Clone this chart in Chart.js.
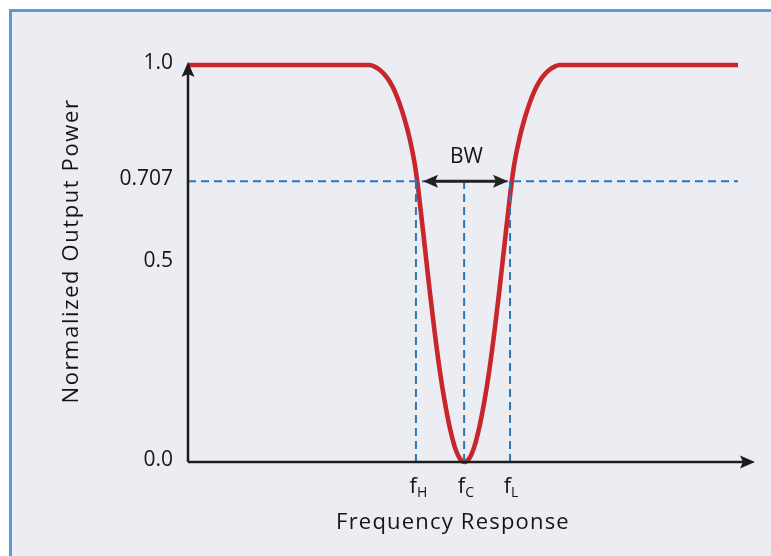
<!DOCTYPE html>
<html>
<head>
<meta charset="utf-8">
<title>Notch filter response</title>
<script src="https://cdn.jsdelivr.net/npm/chart.js@4.4.1/dist/chart.umd.min.js"></script>
<style>
  html, body { margin: 0; padding: 0; background: #ffffff; }
  #frame {
    position: absolute; left: 9px; top: 9px; width: 770px; height: 555px;
    box-sizing: border-box; border-left: 3px solid #5b9bd5; border-top: 3px solid #5b9bd5;
    background: #ecedf3;
  }
  #wrap { position: absolute; left: 0; top: 0; width: 771px; height: 556px; }
</style>
</head>
<body>
<div id="frame"></div>
<div id="wrap"><canvas id="chart"></canvas></div>
<script>
  // frequency axis is unitless (0..100), power is normalized 0..1
  const freq  = [0, 32.02, 32.90, 33.78, 34.66, 35.54, 36.42, 37.31, 38.19, 39.07, 39.95, 40.43, 40.83,
                 41.72, 42.60, 43.48, 44.36, 45.24, 46.12, 47.01, 47.89, 48.77,
                 49.65, 50.53, 51.42, 52.30, 53.18, 54.06, 54.94, 55.82, 56.71, 57.11, 57.59,
                 58.47, 59.35, 60.23, 61.12, 62.00, 62.88, 63.76, 64.64, 65.52, 97.0];
  const power = [1.0, 1.0, 0.996, 0.988, 0.976, 0.959, 0.935, 0.903, 0.864, 0.816, 0.754, 0.707, 0.660,
                 0.548, 0.435, 0.330, 0.235, 0.155, 0.090, 0.040, 0.010, 0.0,
                 0.010, 0.040, 0.090, 0.155, 0.235, 0.330, 0.435, 0.548, 0.660, 0.707, 0.754,
                 0.816, 0.864, 0.903, 0.935, 0.959, 0.976, 0.988, 0.996, 1.0, 1.0];

  const yTickValues = [0, 0.5, 0.707, 1.0];
  const yTickLabels = ["0.0", "0.5", "0.707", "1.0"];

  const markerFreqs = [40.2, 48.7, 56.8];   // fH, fC, fL
  const markerSubs  = ["H", "C", "L"];
  const halfPower = 0.707;
  const bwRange = [41.45, 56.44];
  const guideEnd = 97.0;

  const FONT = "'Open Sans', sans-serif";
  const TEXT = "#151515";
  const AXIS = "#1c1c1c";
  const RED = "#c8262d";
  const BLUE = "#2e75b6";

  function arrowHead(ctx, tipX, tipY, dirX, dirY, len, half) {
    const bx = tipX - dirX * len, by = tipY - dirY * len;
    const px = -dirY, py = dirX;
    ctx.beginPath();
    ctx.moveTo(tipX, tipY);
    ctx.lineTo(bx + px * half, by + py * half);
    ctx.lineTo(bx + dirX * 3, by + dirY * 3);
    ctx.lineTo(bx - px * half, by - py * half);
    ctx.closePath();
    ctx.fill();
  }

  const decor = {
    id: "notchDecor",
    afterDatasetsDraw(chart) {
      const { ctx, chartArea, scales } = chart;
      const xs = scales.x, ys = scales.y;
      const x0 = chartArea.left;
      const y0 = ys.getPixelForValue(0);
      const yTop = ys.getPixelForValue(1) - 3;
      ctx.save();

      // axes with arrows
      ctx.strokeStyle = AXIS;
      ctx.fillStyle = AXIS;
      ctx.lineWidth = 2.5;
      ctx.beginPath();
      ctx.moveTo(x0, y0);
      ctx.lineTo(chartArea.right - 10, y0);
      ctx.moveTo(x0, y0);
      ctx.lineTo(x0, yTop + 10);
      ctx.stroke();
      arrowHead(ctx, chartArea.right, y0, 1, 0, 15, 6.5);
      arrowHead(ctx, x0, yTop, 0, -1, 15, 6.5);

      // bandwidth double arrow
      const yb = ys.getPixelForValue(halfPower);
      const bl = xs.getPixelForValue(bwRange[0]);
      const br = xs.getPixelForValue(bwRange[1]);
      ctx.strokeStyle = "#222";
      ctx.fillStyle = "#222";
      ctx.lineWidth = 3;
      ctx.beginPath();
      ctx.moveTo(bl + 10, yb);
      ctx.lineTo(br - 10, yb);
      ctx.stroke();
      arrowHead(ctx, bl, yb, -1, 0, 15, 6.5);
      arrowHead(ctx, br, yb, 1, 0, 15, 6.5);

      ctx.fillStyle = TEXT;
      ctx.font = "21px " + FONT;
      ctx.textAlign = "center";
      ctx.textBaseline = "middle";
      ctx.fillText("BW", (bl + br) / 2 + 1, yb - 24);

      // y tick labels
      ctx.textAlign = "right";
      yTickValues.forEach((v, i) => {
        ctx.fillText(yTickLabels[i], x0 - 15, ys.getPixelForValue(v) - 2);
      });

      // x marker labels f with subscripts
      markerFreqs.forEach((f, i) => {
        const px = xs.getPixelForValue(f);
        ctx.font = "22px " + FONT;
        ctx.textAlign = "right";
        ctx.textBaseline = "alphabetic";
        ctx.fillText("f", px + 1, y0 + 31);
        ctx.font = "14px " + FONT;
        ctx.textAlign = "left";
        ctx.fillText(markerSubs[i], px + 1, y0 + 35);
      });

      // axis titles
      ctx.font = "22px " + FONT;
      ctx.textAlign = "center";
      ctx.textBaseline = "middle";
      ctx.letterSpacing = "1.2px";
      ctx.fillText("Frequency Response", 453, y0 + 61);
      ctx.letterSpacing = "1.6px";
      ctx.translate(72, 251);
      ctx.rotate(-Math.PI / 2);
      ctx.fillText("Normalized Output Power", 0, 0);
      ctx.letterSpacing = "0px";
      ctx.restore();
    }
  };

  const curve = freq.map((f, i) => ({ x: f, y: power[i] }));
  const dashStyle = { borderColor: BLUE, borderWidth: 2, borderDash: [8, 5], tension: 0, order: 1, clip: false };

  new Chart(document.getElementById("chart"), {
    type: "line",
    data: {
      datasets: [
        Object.assign({ data: [{ x: 0, y: halfPower }, { x: guideEnd, y: halfPower }] }, dashStyle),
        ...markerFreqs.map((f) => Object.assign({ data: [{ x: f, y: 0 }, { x: f, y: halfPower }] }, dashStyle)),
        {
          data: curve,
          borderColor: RED,
          borderWidth: 4.6,
          cubicInterpolationMode: "monotone",
          order: 2,
          clip: false,
        },
      ],
    },
    options: {
      responsive: true,
      maintainAspectRatio: false,
      animation: false,
      layout: { padding: { left: 188, right: 16, top: 65, bottom: 94 } },
      elements: { point: { radius: 0 } },
      plugins: { legend: { display: false }, tooltip: { enabled: false } },
      scales: {
        x: { type: "linear", min: 0, max: 100, display: false },
        y: { min: 0, max: 1, display: false },
      },
    },
    plugins: [decor],
  });
</script>
</body>
</html>
